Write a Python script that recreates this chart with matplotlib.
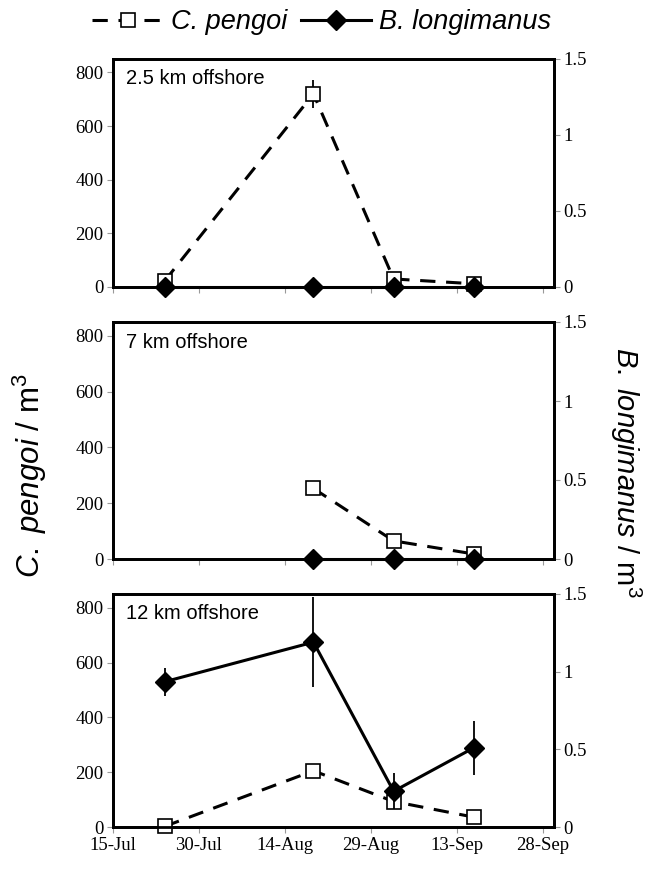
import datetime as dt

import matplotlib
matplotlib.use("Agg")
import matplotlib.dates as mdates
import matplotlib.pyplot as plt
import numpy as np

plt.rcParams["mathtext.fontset"] = "custom"
plt.rcParams["mathtext.it"] = "Liberation Sans:italic"
plt.rcParams["mathtext.rm"] = "Liberation Sans"
plt.rcParams["mathtext.default"] = "regular"

# sampling dates (year arbitrary)
dates = [dt.date(2009, 7, 24), dt.date(2009, 8, 19),
         dt.date(2009, 9, 2), dt.date(2009, 9, 16)]

panel_labels = ["2.5 km offshore", "7 km offshore", "12 km offshore"]

# C. pengoi per m3 (left axis)
pengoi_25 = [22, 720, 30, 12]
pengoi_25_err = [0, 52, 0, 0]
pengoi_7 = [np.nan, 253, 65, 18]
pengoi_7_err = [0, 0, 0, 0]
pengoi_12 = [2, 205, 93, 36]
pengoi_12_err = [0, 0, 0, 0]

# B. longimanus per m3 (right axis)
longi_25 = [0, 0, 0, 0]
longi_25_err = [0, 0, 0, 0]
longi_7 = [np.nan, 0, 0, 0]
longi_7_err = [0, 0, 0, 0]
longi_12 = [0.935, 1.19, 0.23, 0.51]
longi_12_err = [0.09, 0.29, 0.115, 0.175]

x_ticks = [dt.date(2009, 7, 15), dt.date(2009, 7, 30), dt.date(2009, 8, 14),
           dt.date(2009, 8, 29), dt.date(2009, 9, 13), dt.date(2009, 9, 28)]
x_min = dt.date(2009, 7, 15)
x_max = dt.date(2009, 9, 30)

left_ticks = [0, 200, 400, 600, 800]
right_ticks = [0, 0.5, 1, 1.5]
right_ticklabels = ["0", "0.5", "1", "1.5"]

pengoi_sets = [(pengoi_25, pengoi_25_err), (pengoi_7, pengoi_7_err),
               (pengoi_12, pengoi_12_err)]
longi_sets = [(longi_25, longi_25_err), (longi_7, longi_7_err),
              (longi_12, longi_12_err)]

W, H = 657, 869
fig = plt.figure(figsize=(W / 100, H / 100), dpi=100)

# panel boxes in pixels: left, right, top, bottom
boxes = [(113, 554, 59, 287), (113, 554, 322, 559), (113, 554, 594, 827)]

serif = "Liberation Serif"
sans = "Liberation Sans"
tick_col = "#999999"

handles = None
for i, (l, r, t, b) in enumerate(boxes):
    ax = fig.add_axes([l / W, 1 - b / H, (r - l) / W, (b - t) / H])
    ax2 = ax.twinx()

    cp, cp_err = pengoi_sets[i]
    bl, bl_err = longi_sets[i]

    ax.errorbar(dates, cp, yerr=cp_err, fmt="none", ecolor="black",
                elinewidth=1.3, capsize=0, zorder=3, clip_on=False)
    h1, = ax.plot(dates, cp, color="black", lw=2.2, dashes=(5, 3.5),
                  marker="s", markersize=10, markerfacecolor="white",
                  markeredgecolor="black", markeredgewidth=1.2,
                  clip_on=False, zorder=4)

    ax2.errorbar(dates, bl, yerr=bl_err, fmt="none", ecolor="black",
                 elinewidth=1.3, capsize=0, clip_on=False)
    h2, = ax2.plot(dates, bl, color="black", lw=2.2, marker="D",
                   markersize=10, markerfacecolor="black",
                   markeredgecolor="black", clip_on=False, zorder=4)
    if handles is None:
        handles = [h1, h2]

    ax.set_xlim(mdates.date2num(x_min), mdates.date2num(x_max))
    ax.set_ylim(0, 850)
    ax2.set_ylim(0, 1.5)
    ax.set_yticks(left_ticks)
    ax2.set_yticks(right_ticks)
    ax2.set_yticklabels(right_ticklabels)
    ax.set_xticks([mdates.date2num(d) for d in x_ticks])
    ax.xaxis.set_major_formatter(mdates.DateFormatter("%d-%b"))

    for a in (ax, ax2):
        for sp in a.spines.values():
            sp.set_linewidth(2)
            sp.set_color("black")
        a.tick_params(axis="both", direction="out", length=4, width=0.8,
                      color=tick_col, labelsize=13.5, pad=3)
        for lab in a.get_yticklabels() + a.get_xticklabels():
            lab.set_fontfamily(serif)

    if i < 2:
        ax.tick_params(axis="x", labelbottom=False)

    ax.text(0.03, 0.955, panel_labels[i], transform=ax.transAxes,
            ha="left", va="top", fontsize=14.5, family=sans)

fig.text(30 / W, 1 - 476 / H, r"$\mathit{C.\ pengoi}$ / m$^3$", rotation=90,
         ha="center", va="center", fontsize=22.5, family=sans)
fig.text(626 / W, 1 - 472 / H, r"$\mathit{B.\ longimanus}$ / m$^3$",
         rotation=270, ha="center", va="center", fontsize=21, family=sans)

leg = fig.legend(handles, ["C. pengoi", "B. longimanus"], loc="center",
                 bbox_to_anchor=(0.49, 1 - 22 / H), ncol=2, frameon=False,
                 handlelength=2.6, columnspacing=0.5, handletextpad=0.3,
                 prop={"family": sans, "style": "italic", "size": 19.5})

fig.savefig("out.png", dpi=100)
